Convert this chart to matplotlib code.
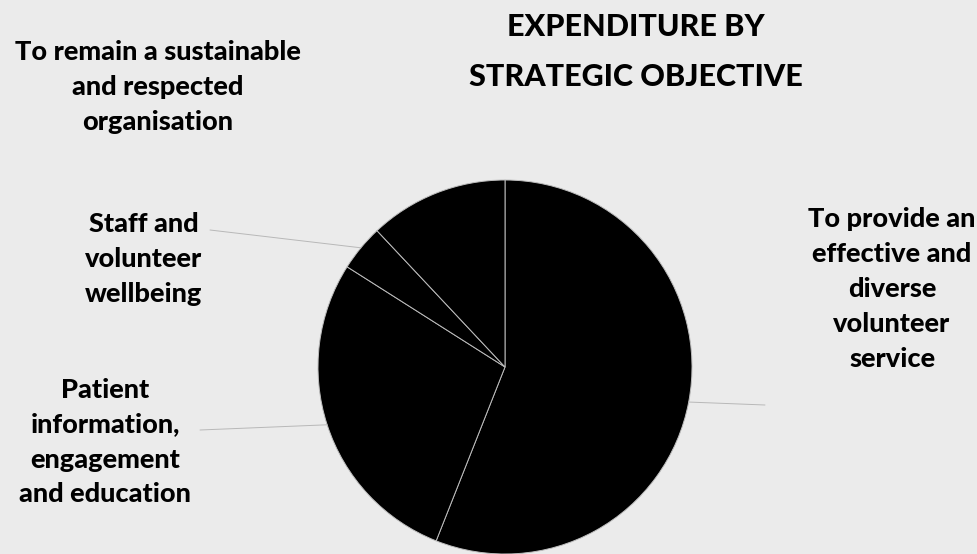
import matplotlib
matplotlib.use("Agg")
import matplotlib.pyplot as plt
import numpy as np

# Expenditure share by strategic objective (%)
categories = [
    "To provide an effective and diverse volunteer service",
    "Patient information, engagement and education",
    "Staff and volunteer wellbeing",
    "To remain a sustainable and respected organisation",
]
shares = [56, 28, 4, 12]

label_lines = [
    "To provide an\neffective and\ndiverse\nvolunteer\nservice",
    "Patient\ninformation,\nengagement\nand education",
    "Staff and\nvolunteer\nwellbeing",
    "To remain a sustainable\nand respected\norganisation",
]
title = "EXPENDITURE BY\nSTRATEGIC OBJECTIVE"

FONT = "Lato"
BG = "#ebebeb"

W, H = 977, 554
fig = plt.figure(figsize=(W / 100, H / 100), dpi=100, facecolor=BG)

# pie axes: centre (505, 367) px from top-left, radius 187 px
cx, cy, r = 505, 367, 187
ax = fig.add_axes([(cx - r) / W, (H - cy - r) / H, 2 * r / W, 2 * r / H])
ax.set_facecolor(BG)
wedges, _ = ax.pie(
    shares,
    startangle=90,
    counterclock=False,
    colors=["#000000"] * len(shares),
    wedgeprops=dict(edgecolor="#bdbdbd", linewidth=0.7),
    radius=1.0,
)
ax.set_xlim(-1, 1)
ax.set_ylim(-1, 1)
ax.set_aspect("equal")
ax.axis("off")

fig.text(636 / W, 1 - 52 / H, title, ha="center", va="center",
         fontsize=22, fontweight="black", family=FONT, linespacing=2.0)

# label positions in figure pixels (centre of text block), leader start point
label_pos = [
    (892, 289, (765, 405)),
    (105, 442, (200, 430)),
    (144, 259, (210, 230)),
    (158, 87, None),
]

for wedge, text, (lx, ly, lead) in zip(wedges, label_lines, label_pos):
    fig.text(lx / W, 1 - ly / H, text, ha="center", va="center",
             fontsize=19.5, fontweight="black", family=FONT, linespacing=1.55)
    if lead is not None:
        mid = np.deg2rad((wedge.theta1 + wedge.theta2) / 2)
        edge = (np.cos(mid), np.sin(mid))
        ax.annotate("", xy=edge, xycoords="data",
                    xytext=(lead[0] / W, 1 - lead[1] / H),
                    textcoords="figure fraction",
                    arrowprops=dict(arrowstyle="-", color="#b8b8b8", lw=0.7,
                                    shrinkA=0, shrinkB=0),
                    annotation_clip=False)

fig.savefig("out.png", dpi=100, facecolor=BG)
